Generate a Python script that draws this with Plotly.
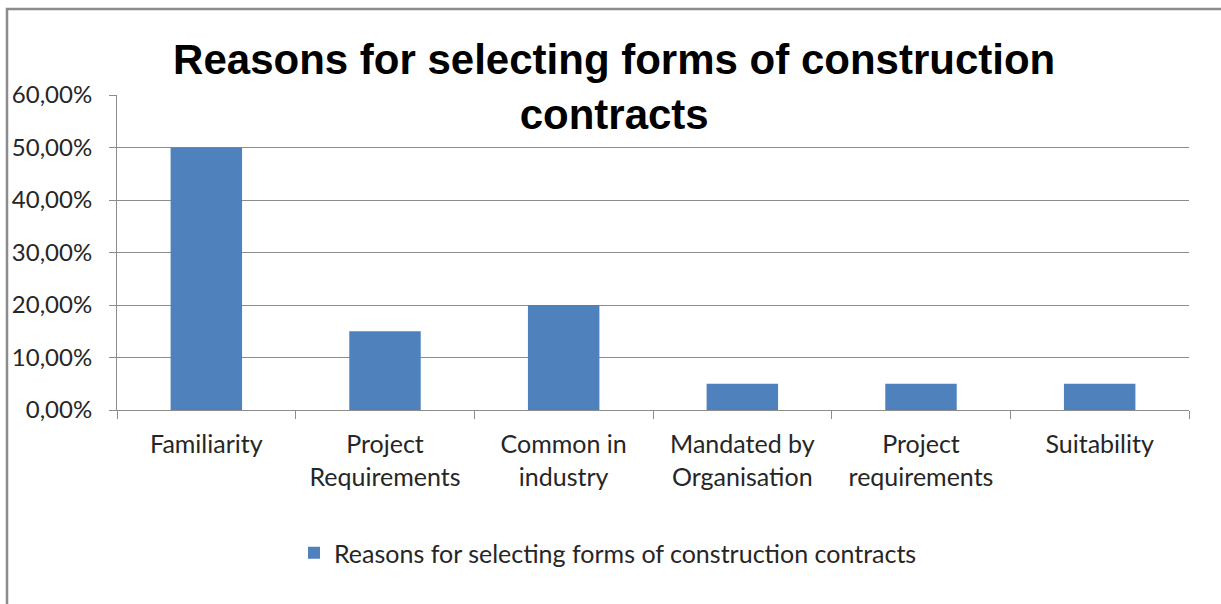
import plotly.graph_objects as go

categories = [
    "Familiarity",
    "Project<br>Requirements",
    "Common in<br>industry",
    "Mandated by<br>Organisation",
    "Project<br>requirements",
    "Suitability",
]
shares = [0.50, 0.15, 0.20, 0.05, 0.05, 0.05]
series_name = "Reasons for selecting forms of construction contracts"
y_ticks = [0, 0.1, 0.2, 0.3, 0.4, 0.5, 0.6]

W, H = 1221, 604
L, R, T, B = 117, 32, 95, 194
plot_w, plot_h = W - L - R, H - T - B


def px_x(p):
    return (p - L) / plot_w


def px_y(p):
    return (H - B - p) / plot_h


text_color = "#262626"
x_font = dict(family="Lato, Open Sans, sans-serif", size=25, color=text_color)
y_font = dict(family="Lato, Open Sans, sans-serif", size=24, color=text_color)

fig = go.Figure(
    go.Bar(
        x=categories,
        y=shares,
        name=series_name,
        marker=dict(color="#4F81BD", line=dict(width=0)),
        showlegend=True,
    )
)

fig.update_layout(
    width=W,
    height=H,
    margin=dict(l=L, r=R, t=T, b=B),
    paper_bgcolor="white",
    plot_bgcolor="white",
    bargap=0.6,
    title=dict(
        text="Reasons for selecting forms of construction<br>contracts",
        font=dict(family="Liberation Sans, Arial, sans-serif", size=42, color="black", weight="bold"),
        x=0.503,
        xanchor="center",
        y=0.877,
        yanchor="middle",
    ),
    separators=",.",
    legend=dict(
        orientation="h",
        x=0.5 - 45 / plot_w,
        xanchor="center",
        y=px_y(553),
        yanchor="middle",
        font=x_font,
        itemsizing="constant",
    ),
    font=x_font,
)

fig.update_xaxes(
    showline=True,
    linecolor="#8c8c8c",
    linewidth=1,
    ticks="outside",
    tickson="boundaries",
    ticklen=8,
    tickcolor="#8c8c8c",
    showgrid=False,
    tickfont=x_font,
    ticklabelstandoff=12,
    fixedrange=True,
)
fig.update_yaxes(
    range=[0, 0.6],
    tickvals=y_ticks,
    tickformat=".2%",
    showline=True,
    linecolor="#8c8c8c",
    linewidth=1,
    ticks="outside",
    ticklen=7,
    tickcolor="#8c8c8c",
    showgrid=True,
    gridcolor="#8c8c8c",
    gridwidth=1,
    tickfont=y_font,
    ticklabelstandoff=12,
    zeroline=False,
    fixedrange=True,
)

# outer chart frame (clipped by the page on the right and bottom)
fig.add_shape(
    type="rect",
    xref="paper",
    yref="paper",
    x0=px_x(7),
    x1=px_x(1240),
    y0=px_y(620),
    y1=px_y(9),
    line=dict(color="#8c8c8c", width=2.5),
    layer="below",
)

fig.write_html("out.html")
